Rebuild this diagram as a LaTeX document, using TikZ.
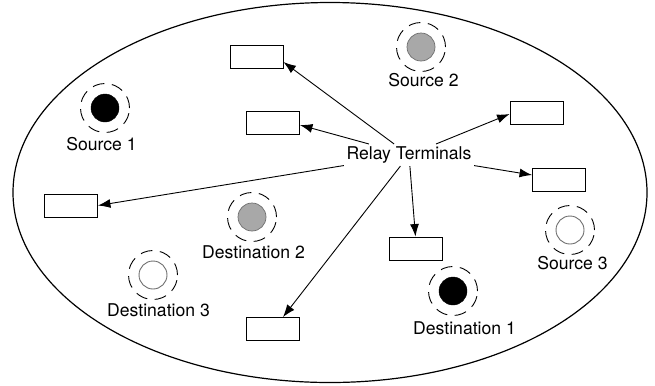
\documentclass[tikz,border=0pt]{standalone}
\usepackage{fontspec}
\setmainfont{TeX Gyre Heros}
\usetikzlibrary{arrows.meta,calc}
\definecolor{dotgray}{HTML}{A8A8A8}
\definecolor{rimgray}{HTML}{6E6E6E}
\begin{document}
\begin{tikzpicture}[x=1bp,y=-1bp,
  font=\fontsize{17.6bp}{20bp}\selectfont,
  ring/.style={circle,draw,dash pattern=on 12bp off 7.5bp,line width=0.9bp,minimum size=49bp,inner sep=0pt},
  blackdot/.style={circle,fill=black,draw=black,minimum size=28bp,inner sep=0pt},
  graydot/.style={circle,fill=dotgray,draw=rimgray,line width=0.7bp,minimum size=28bp,inner sep=0pt},
  whitedot/.style={circle,fill=white,draw=rimgray,line width=0.9bp,minimum size=28bp,inner sep=0pt},
  lbl/.style={anchor=base,inner sep=0pt},
  relaybox/.style={draw,line width=0.9bp,minimum width=53bp,minimum height=23bp,inner sep=0pt},
  arr/.style={line width=0.9bp,-{Latex[length=12.5bp,width=9bp]}}
]
\useasboundingbox (0,0) rectangle (655,385);
\draw[line width=1.2bp] (330,192.5) ellipse [x radius=317, y radius=190];

% relay boxes
\node[relaybox] (r1) at (256.5,56.5) {};
\node[relaybox] (r2) at (273,123) {};
\node[relaybox] (r3) at (536.5,112.5) {};
\node[relaybox] (r4) at (559,180) {};
\node[relaybox] (r5) at (71,205.5) {};
\node[relaybox] (r6) at (273,329) {};
\node[relaybox] (r7) at (415.5,248.5) {};

% relay label
\node[anchor=base,inner sep=2.5bp] (rt) at (409,159.5) {Relay Terminals};

% sources and destinations
\node[ring] (s1) at (105,108) {};
\node[blackdot] (s1dot) at (s1) {};
\node[lbl] (s1l) at (101.5,150) {Source 1};

\node[ring] (s2) at (421,47) {};
\node[graydot] (s2dot) at (s2) {};
\node[lbl] (s2l) at (423.5,86.7) {Source 2};

\node[ring] (s3) at (570,230) {};
\node[whitedot] (s3dot) at (s3) {};
\node[lbl] (s3l) at (572.5,269) {Source 3};

\node[ring] (d1) at (453,291) {};
\node[blackdot] (d1dot) at (d1) {};
\node[lbl] (d1l) at (464.5,334) {Destination 1};

\node[ring] (d2) at (252,217) {};
\node[graydot] (d2dot) at (d2) {};
\node[lbl] (d2l) at (253.5,258.3) {Destination 2};

\node[ring] (d3) at (153,275) {};
\node[whitedot] (d3dot) at (d3) {};
\node[lbl] (d3l) at (158.5,316) {Destination 3};

% arrows
\draw[arr] (rt) -- ([yshift=-5.5bp]r1.east);
\draw[arr] (rt) -- ([yshift=-2bp]r2.east);
\draw[arr] (rt) -- ([yshift=-1.5bp]r3.west);
\draw[arr] (rt) -- ([yshift=5bp]r4.west);
\draw[arr] (rt) -- (r5.east);
\draw[arr] (rt) -- ([xshift=10bp]r6.north);
\draw[arr] (rt) -- (r7.north);
\end{tikzpicture}
\end{document}
